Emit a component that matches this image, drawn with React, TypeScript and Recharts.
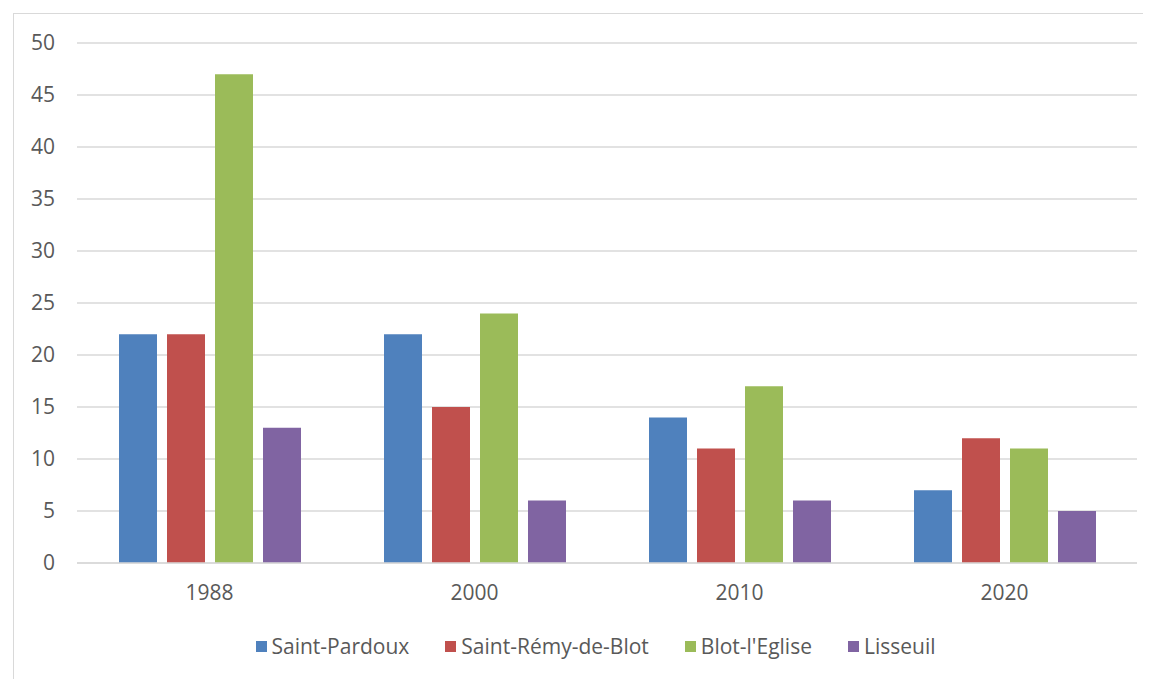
import React from 'react';
import { BarChart, Bar, XAxis, YAxis, CartesianGrid, Legend } from 'recharts';

const years = ['1988', '2000', '2010', '2020'];
const saintPardoux = [22, 22, 14, 7];
const saintRemy = [22, 15, 11, 12];
const blotEglise = [47, 24, 17, 11];
const lisseuil = [13, 6, 6, 5];
const yTicks = [0, 5, 10, 15, 20, 25, 30, 35, 40, 45, 50];

const series = [
  { key: 'sp', name: 'Saint-Pardoux', color: '#4F81BD' },
  { key: 'sr', name: 'Saint-Rémy-de-Blot', color: '#C0504D' },
  { key: 'be', name: "Blot-l'Eglise", color: '#9BBB59' },
  { key: 'li', name: 'Lisseuil', color: '#8064A2' },
];

const data = years.map((year, i) => ({
  year,
  sp: saintPardoux[i],
  sr: saintRemy[i],
  be: blotEglise[i],
  li: lisseuil[i],
}));

const FONT = "'Open Sans', sans-serif";
const TEXT = '#595959';

// legend keeps the series order instead of recharts' sorted payload
const renderLegend = () => (
  <div style={{ display: 'flex', justifyContent: 'center', gap: 36, paddingTop: 29, paddingLeft: 40, fontFamily: FONT, fontSize: 21, color: TEXT, lineHeight: '28px' }}>
    {series.map((s) => (
      <span key={s.key} style={{ display: 'flex', alignItems: 'center' }}>
        <span style={{ width: 11, height: 11, background: s.color, marginRight: 5, display: 'inline-block' }} />
        {s.name}
      </span>
    ))}
  </div>
);

export default function App() {
  return (
    <div style={{ marginLeft: 5, marginTop: 5, width: 1150, height: 680, border: '1px solid #D9D9D9', background: '#fff', overflow: 'hidden' }}>
      <BarChart
        width={1138}
        height={665}
        data={data}
        margin={{ top: 29, right: 15, bottom: 0, left: 0 }}
        barCategoryGap="15.7%"
        barGap={10}
      >
        <CartesianGrid vertical={false} stroke="#D9D9D9" strokeWidth={1.5} />
        <XAxis
          dataKey="year"
          axisLine={{ stroke: '#D9D9D9', strokeWidth: 1.5 }}
          tickLine={false}
          height={40}
          tickMargin={16}
          tick={{ fill: TEXT, fontSize: 21, fontFamily: FONT }}
        />
        <YAxis
          domain={[0, 50]}
          ticks={yTicks}
          width={63}
          axisLine={false}
          tickLine={false}
          tickMargin={16}
          tick={{ fill: TEXT, fontSize: 21, fontFamily: FONT }}
        />
        <Legend verticalAlign="bottom" height={76} content={renderLegend} />
        {series.map((s) => (
          <Bar key={s.key} dataKey={s.key} name={s.name} fill={s.color} barSize={38} isAnimationActive={false} />
        ))}
      </BarChart>
    </div>
  );
}
